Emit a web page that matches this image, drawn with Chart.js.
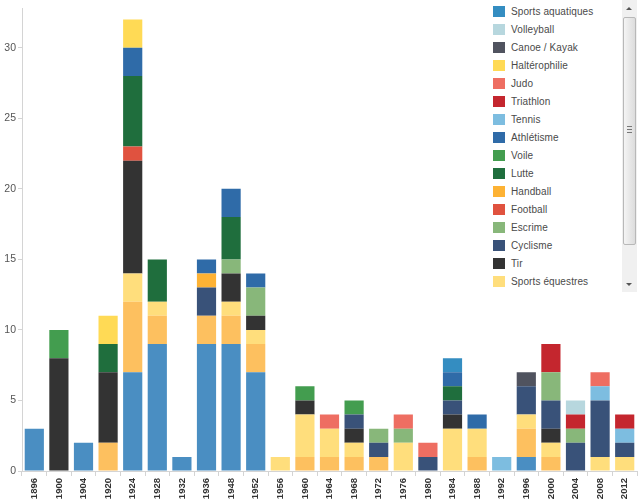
<!DOCTYPE html>
<html><head><meta charset="utf-8">
<script src="https://cdn.jsdelivr.net/npm/chart.js@4/dist/chart.umd.min.js"></script>
<style>
html,body{margin:0;padding:0;background:#fff;}
#wrap{position:relative;width:640px;height:501px;}
#legend{position:absolute;left:486px;top:0;width:136px;height:292px;overflow:hidden;background:#fff;}
.item{position:absolute;left:7px;height:12px;font:10px "Liberation Sans",Arial,sans-serif;color:#4a4a4a;white-space:nowrap;}
.item span.sw{position:absolute;left:0;top:0;width:12px;height:11px;}
.item span.tx{position:absolute;left:18px;top:0px;letter-spacing:0.1px;}
#sb{position:absolute;left:622px;top:0;width:15px;height:292px;background:#f0f0f0;}
#thumb{position:absolute;left:1px;top:17px;width:11px;height:226px;background:linear-gradient(to right,#f4f4f4,#dcdcdc);border:1px solid #b8b8b8;border-radius:2px;}
.arr{position:absolute;left:4px;width:0;height:0;border-left:3px solid transparent;border-right:3px solid transparent;}
#up{top:7px;border-bottom:3px solid #555;}
#dn{top:283px;border-top:3px solid #555;}
.grip{position:absolute;left:3px;width:5px;height:1px;background:#777;}
</style></head>
<body><div id="wrap"><canvas id="c" width="640" height="501"></canvas>
<div id="legend"></div>
<div id="sb"><div id="up" class="arr"></div><div id="thumb"><div class="grip" style="top:108px"></div><div class="grip" style="top:111px"></div><div class="grip" style="top:114px"></div></div><div id="dn" class="arr"></div></div>
</div>
<script>
const years = ["1896","1900","1904","1920","1924","1928","1932","1936","1948","1952","1956","1960","1964","1968","1972","1976","1980","1984","1988","1992","1996","2000","2004","2008","2012"];
// stack order from bottom to top
const gymnastique      = [3,0,2,0,7,9,1,9,9,7,0,0,0,0,0,0,0,0,0,0,1,0,0,0,0];
const aviron           = [0,0,0,2,5,2,0,2,2,2,0,1,1,1,1,0,0,0,1,0,2,1,0,0,0];
const sportsEquestres  = [0,0,0,0,2,1,0,0,1,1,1,3,2,1,0,2,0,3,2,0,1,1,0,1,1];
const tir              = [0,8,0,5,8,0,0,0,2,1,0,1,0,1,0,0,0,1,0,0,0,1,0,0,0];
const cyclisme         = [0,0,0,0,0,0,0,2,0,0,0,0,0,1,1,0,1,1,0,0,2,2,2,4,1];
const escrime          = [0,0,0,0,0,0,0,0,1,2,0,0,0,0,1,1,0,0,0,0,0,2,1,0,0];
const football         = [0,0,0,0,1,0,0,0,0,0,0,0,0,0,0,0,0,0,0,0,0,0,0,0,0];
const handball         = [0,0,0,0,0,0,0,1,0,0,0,0,0,0,0,0,0,0,0,0,0,0,0,0,0];
const lutte            = [0,0,0,2,5,3,0,0,3,0,0,0,0,0,0,0,0,1,0,0,0,0,0,0,0];
const voile            = [0,2,0,0,0,0,0,0,0,0,0,1,0,1,0,0,0,0,0,0,0,0,0,0,0];
const athletisme       = [0,0,0,0,2,0,0,1,2,1,0,0,0,0,0,0,0,1,1,0,0,0,0,0,0];
const tennis           = [0,0,0,0,0,0,0,0,0,0,0,0,0,0,0,0,0,0,0,1,0,0,0,1,1];
const triathlon        = [0,0,0,0,0,0,0,0,0,0,0,0,0,0,0,0,0,0,0,0,0,2,1,0,1];
const judo             = [0,0,0,0,0,0,0,0,0,0,0,0,1,0,0,1,1,0,0,0,0,0,0,1,0];
const halterophilie    = [0,0,0,2,2,0,0,0,0,0,0,0,0,0,0,0,0,0,0,0,0,0,0,0,0];
const canoeKayak       = [0,0,0,0,0,0,0,0,0,0,0,0,0,0,0,0,0,0,0,0,1,0,0,0,0];
const volleyball       = [0,0,0,0,0,0,0,0,0,0,0,0,0,0,0,0,0,0,0,0,0,0,1,0,0];
const sportsAquatiques = [0,0,0,0,0,0,0,0,0,0,0,0,0,0,0,0,0,1,0,0,0,0,0,0,0];
const yTicks = [0,5,10,15,20,25,30];

const series = [
  ["Gymnastique", gymnastique, "#4a8ec2"],
  ["Aviron", aviron, "#fdc05f"],
  ["Sports équestres", sportsEquestres, "#ffde7c"],
  ["Tir", tir, "#333333"],
  ["Cyclisme", cyclisme, "#395279"],
  ["Escrime", escrime, "#88b77a"],
  ["Football", football, "#e0523f"],
  ["Handball", handball, "#fdb234"],
  ["Lutte", lutte, "#1f6e3d"],
  ["Voile", voile, "#439d4f"],
  ["Athlétisme", athletisme, "#2f6ba8"],
  ["Tennis", tennis, "#7dbde0"],
  ["Triathlon", triathlon, "#c4262e"],
  ["Judo", judo, "#ee6e62"],
  ["Haltérophilie", halterophilie, "#ffda55"],
  ["Canoe / Kayak", canoeKayak, "#50535f"],
  ["Volleyball", volleyball, "#b7d7de"],
  ["Sports aquatiques", sportsAquatiques, "#348dc1"]
];

const datasets = series.map(s => ({
  label: s[0], data: s[1], backgroundColor: s[2], borderWidth: 0,
  barPercentage: 0.78, categoryPercentage: 1.0
}));

new Chart(document.getElementById('c'), {
  type: 'bar',
  data: { labels: years, datasets },
  options: {
    responsive: false, animation: false,
    layout: { padding: { top: 1, right: 3, left: 0, bottom: 0 } },
    plugins: { legend: { display: false }, tooltip: { enabled: false } },
    scales: {
      x: {
        stacked: true,
        grid: { display: true, drawOnChartArea: false, offset: true, color: '#d4d4d4', tickLength: 5 },
        border: { display: true, color: '#d4d4d4' },
        ticks: { minRotation: 90, maxRotation: 90, autoSkip: false, padding: 2,
                 color: '#333', font: { family: 'Liberation Sans', size: 9.5, weight: 'bold' } },
        afterFit: s => { s.height = 30; }
      },
      y: {
        stacked: true, min: 0, max: 32.8,
        afterBuildTicks: s => { s.ticks = yTicks.map(v => ({ value: v })); },
        grid: { display: true, drawOnChartArea: false, color: '#d4d4d4', tickLength: 4 },
        border: { display: true, color: '#d4d4d4' },
        ticks: { color: '#555', padding: 2, font: { family: 'Liberation Sans', size: 10.5 } },
        afterFit: s => { s.width = 22; }
      }
    }
  }
});

const leg = document.getElementById('legend');
series.slice().reverse().forEach((s, i) => {
  const d = document.createElement('div');
  d.className = 'item';
  d.style.top = (6 + i * 18) + 'px';
  d.innerHTML = '<span class="sw" style="background:' + s[2] + '"></span><span class="tx">' + s[0] + '</span>';
  leg.appendChild(d);
});
</script>
</body></html>
